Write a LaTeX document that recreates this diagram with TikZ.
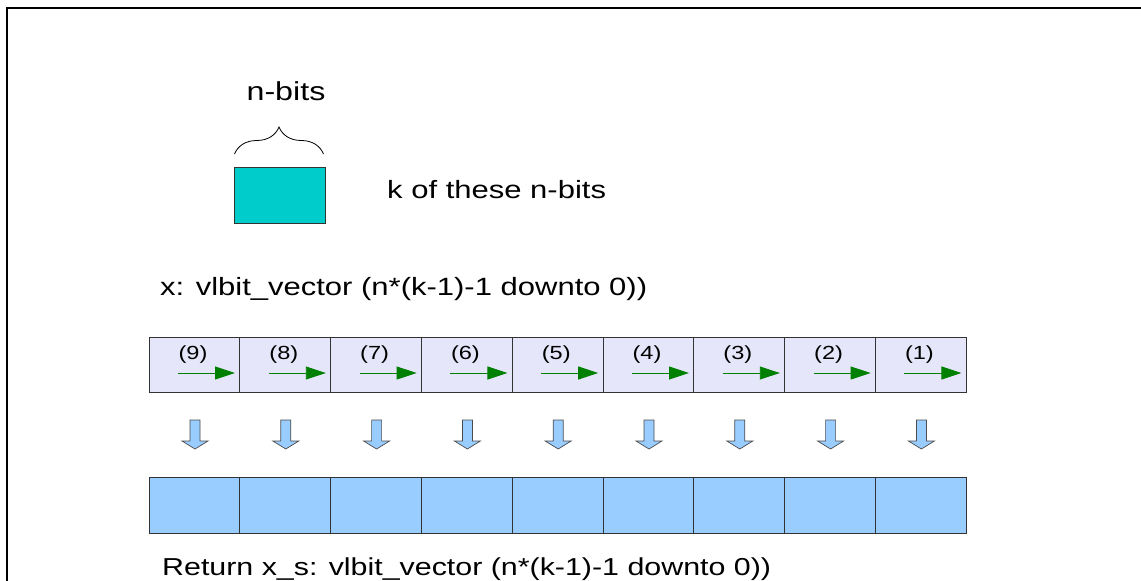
\documentclass[tikz,border=0pt]{standalone}
\usepackage{fontspec}
\setmainfont[FakeStretch=1.24]{Liberation Sans}
\usetikzlibrary{arrows.meta,decorations.pathreplacing}
\definecolor{cellbg}{RGB}{230,230,250}
\definecolor{outbg}{RGB}{153,204,255}
\definecolor{cyanbox}{RGB}{0,204,204}
\definecolor{darkgreen}{RGB}{0,128,0}
\tikzset{
  topcell/.style={draw=black!80, fill=cellbg, line width=0.9pt, minimum width=90.8pt, minimum height=55pt, inner sep=0pt, outer sep=0pt},
  botcell/.style={draw=black!80, fill=outbg, line width=0.9pt, minimum width=90.8pt, minimum height=56pt, inner sep=0pt, outer sep=0pt},
  idx/.style={font=\fontsize{19}{19}\selectfont, inner sep=0pt},
  garrow/.style={darkgreen, line width=0.9pt, -{Triangle[length=20pt,width=13pt]}},
  lbl/.style={font=\fontsize{25}{25}\selectfont, inner sep=0pt, anchor=west},
  downarr/.style={draw=black!70, fill=outbg, line width=0.7pt}
}
\begin{document}
\begin{tikzpicture}[x=1pt,y=-1pt]
\useasboundingbox (0,0) rectangle (1141,581);
\fill[white] (0,0) rectangle (1141,581);
\draw[line width=2pt] (6.7,600) -- (6.7,8.3) -- (1160,8.3);
% legend
\node[draw=black!80, fill=cyanbox, line width=0.9pt, minimum width=91pt, minimum height=56pt, inner sep=0pt, anchor=north west] (nb) at (234,167) {};
\coordinate (bl) at (234.5,154);
\coordinate (br) at (323.5,154);
\draw[line width=0.8pt, decoration={brace, amplitude=27pt, aspect=0.5}, decorate] (bl) -- (br);
\node[font=\fontsize{26}{26}\selectfont, inner sep=0pt] (nbits) at (286,91) {n-bits};
\node[lbl] (kof) at (387,190) {k of these n-bits};
\node[lbl] (xlbl) at (160,289) {x: vlbit\_vector (n*(k-1)-1 downto 0))};
% rows
\foreach \i [evaluate=\i as \n using int(10-\i)] in {1,...,9} {
  \pgfmathsetmacro{\xl}{149+90.8*(\i-1)}
  \node[topcell, anchor=north west] (t\i) at (\xl,337) {};
  \node[botcell, anchor=north west] (b\i) at (\xl,477) {};
  \node[idx] (l\i) at (\xl+44,355) {(\n)};
  \coordinate (gs\i) at (\xl+29,373);
  \coordinate (ge\i) at (\xl+86,373);
  \draw[garrow] (gs\i) -- (ge\i);
  \draw[downarr] (\xl+41,420) -- (\xl+51,420) -- (\xl+51,441) -- (\xl+59,441) -- (\xl+46,449) -- (\xl+33,441) -- (\xl+41,441) -- cycle;
}
\node[lbl, font=\fontsize{24.5}{24.5}\selectfont] (ret) at (162,569) {Return x\_s: vlbit\_vector (n*(k-1)-1 downto 0))};
\end{tikzpicture}
\end{document}
